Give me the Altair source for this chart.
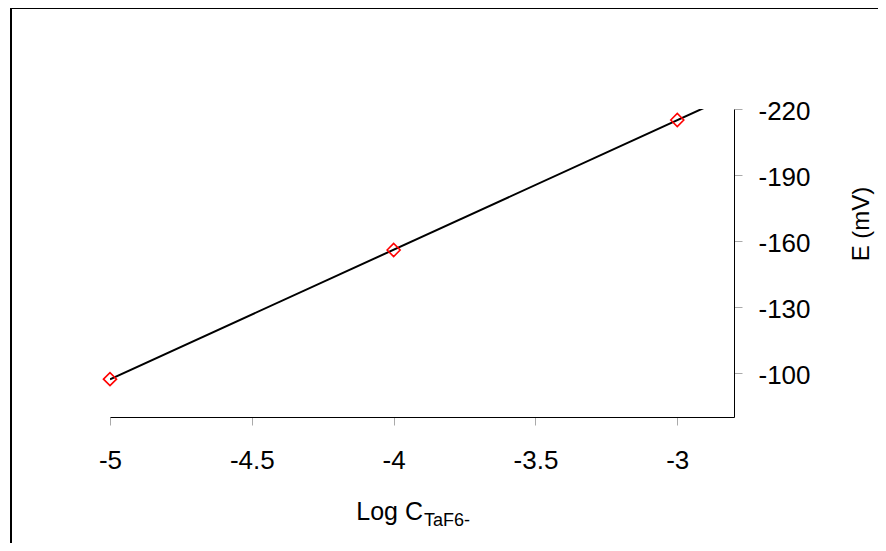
import altair as alt
import pandas as pd

# data
log_c = [-5, -4, -3]
e_mv = [-97.2, -155.9, -215.0]
x_ticks = [-5, -4.5, -4, -3.5, -3]
y_ticks = [-220, -190, -160, -130, -100]
x_domain = [-5, -2.8]
y_domain = [-220, -80]

df = pd.DataFrame({"x": log_c, "y": e_mv})

FONT = "Liberation Sans"
W, H = 624, 308

xs = alt.Scale(domain=x_domain, nice=False, zero=False)
ys = alt.Scale(domain=y_domain, nice=False, zero=False, reverse=True)

x_axis = alt.Axis(values=x_ticks, labelExpr="'' + datum.value", title=None, grid=False,
                  orient="bottom", domainColor="black", domainWidth=1, tickColor="#aaaaaa",
                  tickSize=8, labelFontSize=26, labelFont=FONT, labelColor="black",
                  labelPadding=22, labelFlush=False)
y_axis = alt.Axis(values=y_ticks, labelExpr="'' + datum.value", title=None, grid=False,
                  orient="right", domainColor="black", domainWidth=1, tickColor="#aaaaaa",
                  tickSize=8, labelFontSize=26, labelFont=FONT, labelColor="black",
                  labelPadding=16, labelOffset=2.5, labelFlush=False)

base = alt.Chart(df)

fit = base.transform_regression("x", "y", extent=x_domain).mark_line(
    color="black", strokeWidth=2, clip=True
).encode(x=alt.X("x:Q", scale=xs, axis=x_axis), y=alt.Y("y:Q", scale=ys, axis=y_axis))

pts = base.mark_point(shape="diamond", filled=False, color="red", strokeWidth=1.6,
                      size=170, opacity=1).encode(
    x=alt.X("x:Q", scale=xs), y=alt.Y("y:Q", scale=ys))

one = pd.DataFrame({"a": [0]})
frame_top = alt.Chart(one).mark_rule(color="black", strokeWidth=2).encode(
    x=alt.value(-100), x2=alt.value(W + 300), y=alt.value(-101))
frame_left = alt.Chart(one).mark_rule(color="black", strokeWidth=2).encode(
    x=alt.value(-99), y=alt.value(-102), y2=alt.value(H + 300))

title_main = alt.Chart(pd.DataFrame({"t": ["Log C"]})).mark_text(
    font=FONT, fontSize=25, align="right", baseline="alphabetic", color="black"
).encode(text="t:N", x=alt.value(313), y=alt.value(411))

title_sub = alt.Chart(pd.DataFrame({"t": ["TaF6-"]})).mark_text(
    font=FONT, fontSize=18, align="left", baseline="alphabetic", color="black"
).encode(text="t:N", x=alt.value(314), y=alt.value(417))

y_title = alt.Chart(pd.DataFrame({"t": ["E (mV)"]})).mark_text(
    font=FONT, fontSize=24, align="center", baseline="middle", angle=270, color="black"
).encode(text="t:N", x=alt.value(752), y=alt.value(115))

chart = alt.layer(frame_top, frame_left, fit, pts, title_main, title_sub, y_title).properties(
    width=W, height=H,
    autosize=alt.AutoSizeParams(type="none"),
    padding={"left": 102, "top": 101, "right": 144, "bottom": 126},
    background="white",
).configure_view(stroke="transparent", strokeWidth=0)

chart.save("out.html", embed_options={"renderer": "svg", "actions": False})
